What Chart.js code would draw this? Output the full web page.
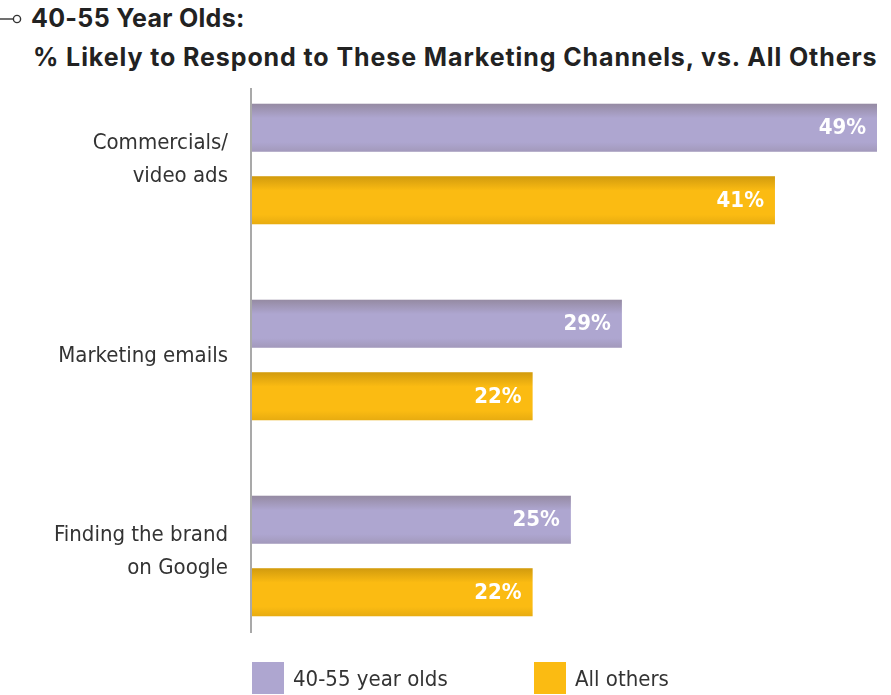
<!DOCTYPE html>
<html>
<head>
<meta charset="utf-8">
<script src="https://cdn.jsdelivr.net/npm/chart.js@4/dist/chart.umd.min.js"></script>
<style>
  body { margin: 0; background: #fff; }
  #wrap { position: relative; width: 891px; height: 695px; overflow: hidden; }
  #wrap canvas { position: absolute; left: 0; top: 0; }
  .title { position: absolute; font-family: Inter, "Open Sans", sans-serif; font-weight: 700;
           font-size: 25px; letter-spacing: 0.9px; color: #222; white-space: nowrap; line-height: 1; }
  .legend { position: absolute; top: 662px; font-family: "DejaVu Sans Condensed", "DejaVu Sans", sans-serif;
            font-stretch: condensed; font-size: 22px; color: #333; display: flex; align-items: center; height: 32px; }
  .legend span.box { width: 32px; height: 32px; margin-right: 9px; display: inline-block; }
</style>
</head>
<body>
<div id="wrap">
  <svg style="position:absolute;left:0;top:12px" width="24" height="14">
    <line x1="0" y1="7" x2="13" y2="7" stroke="#333" stroke-width="1.4"/>
    <circle cx="17" cy="7" r="3.6" fill="#fff" stroke="#333" stroke-width="1.4"/>
  </svg>
  <div class="title" style="left:31px;top:6px;letter-spacing:0.3px">40-55 Year Olds:</div>
  <div class="title" style="left:33px;top:45px">% Likely to Respond to These Marketing Channels, vs. All Others</div>
  <canvas id="chart" width="891" height="695"></canvas>
  <div id="legend"></div>
</div>
<script>
// channels asked about
const categories = [["Commercials/", "video ads"], "Marketing emails", ["Finding the brand", "on Google"]];
const seriesNames = ["40-55 year olds", "All others"];
const ageGroupValues = [49, 29, 25];
const allOthersValues = [41, 22, 22];
const seriesColors = ["#aea6d0", "#fbbb12"];
const legendLeft = [252, 534];

// soft darker edges on each bar
const barShade = {
    id: "barShade",
    afterDatasetsDraw(chart) {
        const ctx = chart.ctx;
        chart.data.datasets.forEach((ds, i) => {
            chart.getDatasetMeta(i).data.forEach(bar => {
                const top = bar.y - bar.height / 2;
                const g = ctx.createLinearGradient(0, top, 0, top + bar.height);
                g.addColorStop(0, "rgba(60,40,0,0.22)");
                g.addColorStop(0.3, "rgba(60,40,0,0)");
                g.addColorStop(0.8, "rgba(60,40,0,0)");
                g.addColorStop(1, "rgba(60,40,0,0.10)");
                ctx.save();
                ctx.fillStyle = g;
                ctx.fillRect(bar.base, top, bar.x - bar.base, bar.height);
                ctx.restore();
            });
        });
    }
};

// value labels inside the bar ends, plus the short category axis line
const valueLabels = {
    id: "valueLabels",
    afterDatasetsDraw(chart) {
        const ctx = chart.ctx;
        const area = chart.chartArea;
        ctx.save();
        ctx.fillStyle = "#a9a9a9";
        ctx.fillRect(area.left - 2, area.top + 22, 2, area.bottom - area.top - 43);
        ctx.font = "bold 22px 'DejaVu Sans Condensed', 'DejaVu Sans', sans-serif";
        ctx.fillStyle = "#fff";
        ctx.textAlign = "right";
        ctx.textBaseline = "middle";
        chart.data.datasets.forEach((ds, i) => {
            chart.getDatasetMeta(i).data.forEach((bar, j) => {
                ctx.fillText(ds.data[j] + "%", bar.x - 11, bar.y + 1);
            });
        });
        ctx.restore();
    }
};

const ctx = document.getElementById("chart").getContext("2d");
new Chart(ctx, {
    type: "bar",
    data: {
        labels: categories,
        datasets: [
            { label: seriesNames[0], data: ageGroupValues, backgroundColor: seriesColors[0] },
            { label: seriesNames[1], data: allOthersValues, backgroundColor: seriesColors[1] }
        ]
    },
    options: {
        indexAxis: "y",
        responsive: false,
        animation: false,
        categoryPercentage: 0.74,
        barPercentage: 0.662,
        layout: { padding: { top: 66, bottom: 41, right: 14, left: 0 } },
        scales: {
            x: { min: 0, max: 49, display: false },
            y: {
                grid: { display: false, drawTicks: false },
                border: { display: false },
                afterFit: s => {
                    s.width = 252;
                    s.paddingTop = 0;
                    s.paddingBottom = 0;
                },
                ticks: {
                    padding: 24,
                    labelOffset: -4,
                    color: "#333",
                    font: { family: "'DejaVu Sans Condensed', sans-serif", size: 22, lineHeight: 1.5 }
                }
            }
        },
        plugins: {
            legend: { display: false },
            tooltip: { enabled: false }
        }
    },
    plugins: [barShade, valueLabels]
});

// legend below the plot
const legend = document.getElementById("legend");
seriesNames.forEach((name, i) => {
    const item = document.createElement("div");
    item.className = "legend";
    item.style.left = legendLeft[i] + "px";
    item.innerHTML = '<span class="box" style="background:' + seriesColors[i] + '"></span>' + name;
    legend.appendChild(item);
});
</script>
</body>
</html>
